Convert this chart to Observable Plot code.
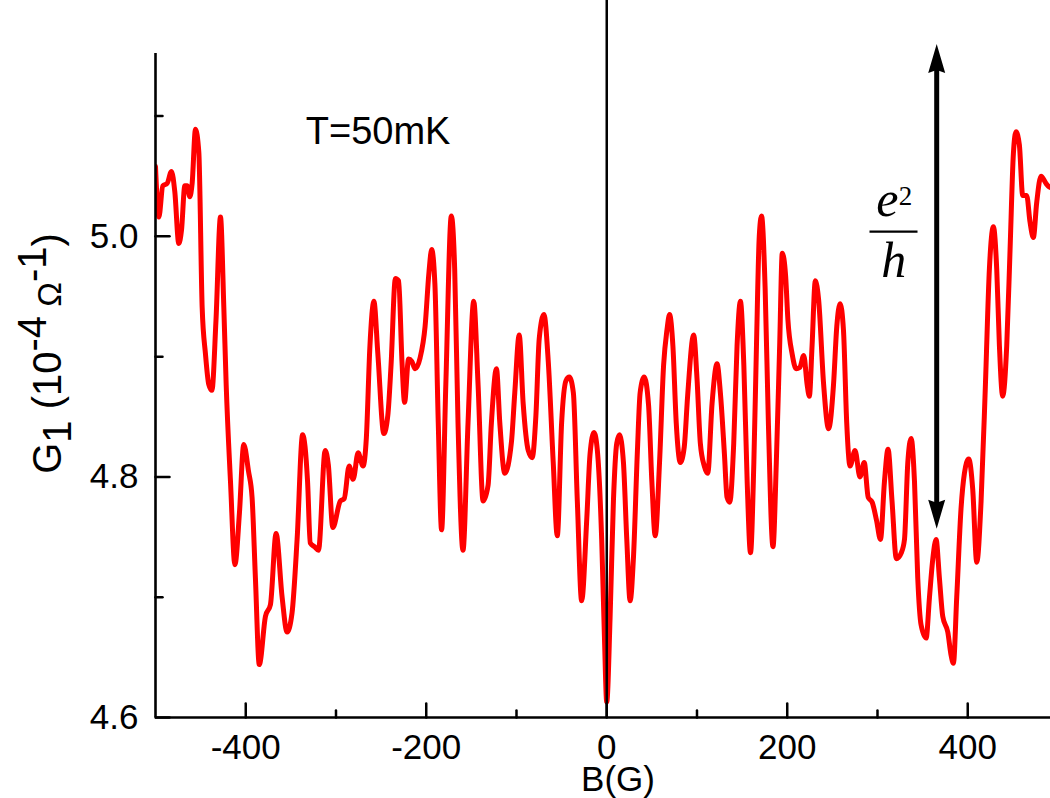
<!DOCTYPE html>
<html><head><meta charset="utf-8">
<script src="https://cdn.jsdelivr.net/npm/d3@7"></script>
<script src="https://cdn.jsdelivr.net/npm/@observablehq/plot@0.6"></script>
<style>
html,body{margin:0;padding:0;background:#fff;overflow:hidden;}
#chart svg{display:block;}
</style></head><body><div id="chart"></div>
<script>
// Magnetoconductance trace: [B (G), G1 (1e-4 / ohm)]
const samples = [
[-500,5.058],[-496.3,5.016],[-491.9,5.042],[-487.1,5.044],[-482.3,5.054],[-478.6,5.037],[-474.2,4.994],[-471.2,5.005],
[-467.5,5.042],[-464.9,5.042],[-462,5.033],[-459.4,5.044],[-455.7,5.089],[-452,5.070],[-448.3,4.941],[-444.6,4.902],
[-441,4.877],[-437.5,4.872],[-433,4.930],[-428,5.016],[-424.3,4.941],[-421.7,4.877],[-416.9,4.796],[-412,4.727],
[-407,4.770],[-402.2,4.827],[-397,4.805],[-393,4.783],[-389.3,4.716],[-385,4.644],[-378.2,4.684],[-372.6,4.694],
[-366.4,4.753],[-359.7,4.700],[-354.2,4.671],[-348.7,4.687],[-343.1,4.748],[-337,4.835],[-331.5,4.796],[-328.5,4.745],
[-323.8,4.742],[-319.4,4.739],[-312,4.822],[-308.5,4.810],[-303.5,4.758],[-295.2,4.780],[-290.9,4.782],[-285.4,4.809],
[-281,4.798],[-275.5,4.820],[-270,4.809],[-266.4,4.832],[-262.4,4.909],[-258,4.946],[-253.6,4.902],[-247,4.836],
[-242.6,4.851],[-239,4.893],[-234.2,4.965],[-230.6,4.963],[-226.9,4.896],[-224,4.862],[-219.6,4.898],[-216,4.896],
[-212.3,4.890],[-206.8,4.899],[-201.3,4.925],[-197,4.970],[-194,4.989],[-190.4,4.960],[-186.7,4.845],[-183,4.756],
[-178.3,4.877],[-172.2,5.017],[-168.5,4.973],[-164.8,4.845],[-159.3,4.739],[-153.7,4.845],[-147.4,4.946],[-142.6,4.877],
[-137,4.780],[-131.5,4.793],[-127.8,4.845],[-122.2,4.890],[-118.5,4.845],[-113,4.803],[-105.6,4.829],[-101.9,4.870],
[-97,4.918],[-92.6,4.861],[-87,4.822],[-82.6,4.816],[-78.5,4.851],[-74.8,4.915],[-69.6,4.935],[-64.8,4.896],
[-59.3,4.812],[-54.8,4.751],[-50,4.845],[-45.2,4.880],[-41.5,4.883],[-37,4.870],[-32.6,4.780],[-27.8,4.697],
[-22.2,4.764],[-18.5,4.819],[-14.1,4.837],[-10.4,4.822],[-5.6,4.748],[-2.6,4.668],[0,4.613],
[3.7,4.683],[7.4,4.780],[11.1,4.828],[14.1,4.835],[18.5,4.812],[22.2,4.748],[25.9,4.697],[29.6,4.733],
[34,4.822],[37,4.870],[41.5,4.883],[46.3,4.860],[50,4.796],[53.7,4.751],[58.5,4.812],[63,4.893],
[66.7,4.922],[69.6,4.935],[73.3,4.909],[77,4.845],[81.5,4.812],[85.9,4.825],[89.6,4.867],[96.3,4.918],
[100,4.882],[103.7,4.828],[108.1,4.809],[111.9,4.803],[116.7,4.861],[122.2,4.894],[125.9,4.870],[130.4,4.819],
[133.3,4.783],[136.3,4.779],[140.7,4.828],[144.4,4.909],[148.1,4.946],[151.9,4.893],[155.6,4.796],[159.3,4.737],
[163,4.812],[165.9,4.909],[169,5.000],[171.5,5.017],[175.5,4.957],[179.1,4.845],[184.2,4.742],[187.9,4.812],
[191.6,4.909],[194.5,4.986],[198.2,4.967],[200.7,4.931],[205.5,4.902],[209.9,4.890],[213.9,4.891],[218.3,4.901],
[222,4.877],[224.5,4.867],[227.5,4.909],[231.1,4.963],[234.8,4.947],[240.3,4.877],[245.8,4.840],[251.3,4.877],
[254.9,4.925],[258.6,4.944],[262.3,4.922],[265.9,4.845],[269.6,4.809],[275.1,4.822],[280.6,4.800],[285.3,4.812],
[289.7,4.783],[294.1,4.779],[298.9,4.764],[303.3,4.748],[307.7,4.796],[311.7,4.823],[316.1,4.780],[320.9,4.732],
[326.4,4.737],[329.9,4.748],[333.6,4.812],[337.3,4.832],[341,4.796],[344.6,4.716],[348.3,4.677],[353.9,4.666],
[357.6,4.700],[361.3,4.732],[364.9,4.748],[368.6,4.716],[372.3,4.684],[377.9,4.671],[381.5,4.652],[384.1,4.645],
[387.8,4.700],[392.6,4.774],[396.3,4.803],[401.1,4.815],[405.5,4.790],[410,4.729],[414.8,4.780],[419.6,4.877],
[424,4.973],[428.4,5.008],[432.1,4.973],[435.1,4.909],[438.7,4.867],[443.2,4.909],[446.9,4.989],[450.6,5.069],
[453.5,5.087],[457.2,5.076],[460.9,5.034],[465.3,5.034],[469,5.012],[472.7,4.999],[476.4,5.028],[481.2,5.050],
[486.7,5.044],[490.4,5.041],[494,5.040]
];

const xDomain = [-500, 491.7];
const yDomain = [4.6, 5.152];
const xMajorTicks = [-400, -200, 0, 200, 400];
const xMinorTicks = [-300, -100, 100, 300];
const xTickLabels = ["-400", "-200", "0", "200", "400"];
const yMajorTicks = [4.6, 4.8, 5.0];
const yMinorTicks = [4.7, 4.9, 5.1];
const yTickLabels = ["4.6", "4.8", "5.0"];
const xTitle = "B(G)";
const yTitleParts = [["G", ""], ["1", "sub"], [" (10", ""], ["-4", "sup"], [" \u03A9", "omega"], ["-1", "sup"], [")", ""]];
const yTitle = yTitleParts.map(p => p[0]).join("");
const tempLabel = ["T=50mK"];
const tempPos = {B: -333.5, G: 5.077};
const arrowB = 365.6;
const arrowEnds = {low: 4.757, high: 5.160};
const fracNumer = {text: "e", sup: "2", B: 311, G: 5.017, supB: 331, supG: 5.026};
const fracDenom = {text: "h", B: 318, G: 4.966};
const fracBar = {B1: 291.7, B2: 344.9, G: 5.004};

const data = samples.map(([b, g]) => ({B: b, G: g}));

const lineShape = {draw(ctx, l) { ctx.moveTo(0, 0); ctx.lineTo(0, -l); }};
const headShape = {draw(ctx) { ctx.moveTo(0, 0); ctx.lineTo(-8.5, 29); ctx.lineTo(0, 26); ctx.lineTo(8.5, 29); ctx.closePath(); }};

const sans = "'Liberation Sans', Arial, Helvetica, sans-serif";
const serif = "'Liberation Serif', 'Times New Roman', serif";

const plot = Plot.plot({
  width: 1050, height: 798,
  marginLeft: 155, marginRight: 0, marginTop: 53, marginBottom: 81,
  x: {domain: xDomain, axis: null},
  y: {domain: yDomain, axis: null},
  style: {fontFamily: sans, fontSize: "35px", background: "#fff", color: "#000"},
  marks: [
    Plot.line(data, {x: "B", y: "G", stroke: "#ff0000", strokeWidth: 5, curve: "monotone-x", clip: true, strokeLinejoin: "round"}),
    // zero-field line
    Plot.ruleX([0], {y1: 5.25, y2: 4.6, stroke: "#000", strokeWidth: 2.5}),
    // axes frame lines
    Plot.ruleX([xDomain[0]], {y1: yDomain[1], y2: yDomain[0], stroke: "#000", strokeWidth: 2.6}),
    Plot.ruleY([yDomain[0]], {x1: xDomain[0], x2: 520, stroke: "#000", strokeWidth: 2.6}),
    // inward ticks
    Plot.vector(xMajorTicks, {x: d => d, y: yDomain[0], length: 14, rotate: 0, anchor: "start", shape: lineShape, stroke: "#000", strokeWidth: 2.5}),
    Plot.vector(xMinorTicks, {x: d => d, y: yDomain[0], length: 7, rotate: 0, anchor: "start", shape: lineShape, stroke: "#000", strokeWidth: 2.5}),
    Plot.vector(yMajorTicks, {y: d => d, x: xDomain[0], length: 14, rotate: 90, anchor: "start", shape: lineShape, stroke: "#000", strokeWidth: 2.5}),
    Plot.vector(yMinorTicks, {y: d => d, x: xDomain[0], length: 7, rotate: 90, anchor: "start", shape: lineShape, stroke: "#000", strokeWidth: 2.5}),
    // tick labels
    Plot.text(xMajorTicks, {x: d => d, text: (d, i) => xTickLabels[i], frameAnchor: "bottom", lineAnchor: "top", dy: 17, fontSize: 35, fill: "#000"}),
    Plot.text(yMajorTicks, {y: d => d, text: (d, i) => yTickLabels[i], frameAnchor: "left", textAnchor: "end", dx: -17, fontSize: 35, fill: "#000"}),
    // axis titles
    Plot.text([xTitle], {frameAnchor: "bottom", lineAnchor: "bottom", dy: 73, dx: 15, fontSize: 35, fill: "#000"}),
    Plot.text([yTitle], {frameAnchor: "left", rotate: -90, textAnchor: "middle", lineAnchor: "middle", dx: -107, dy: -32, fontSize: 40, fill: "#000"}),
    // temperature label
    Plot.text(tempLabel, {x: tempPos.B, y: tempPos.G, textAnchor: "start", lineAnchor: "bottom", fontSize: 38, fill: "#000"}),
    // e^2/h annotation
    Plot.text([fracNumer.text], {x: fracNumer.B, y: fracNumer.G, lineAnchor: "bottom", fontFamily: serif, fontStyle: "italic", fontSize: 50, fill: "#000"}),
    Plot.text([fracNumer.sup], {x: fracNumer.supB, y: fracNumer.supG, lineAnchor: "bottom", fontFamily: serif, fontSize: 27, fill: "#000"}),
    Plot.ruleY([fracBar.G], {x1: fracBar.B1, x2: fracBar.B2, stroke: "#000", strokeWidth: 2.2}),
    Plot.text([fracDenom.text], {x: fracDenom.B, y: fracDenom.G, lineAnchor: "bottom", fontFamily: serif, fontStyle: "italic", fontSize: 50, fill: "#000"}),
    // double arrow (shaft between the heads)
    Plot.ruleX([arrowB], {y1: arrowEnds.high, y2: arrowEnds.low, insetTop: 22, insetBottom: 22, stroke: "#000", strokeWidth: 5}),
    Plot.dot([arrowEnds.high], {x: arrowB, y: d => d, symbol: headShape, fill: "#000", stroke: "none", rotate: 0}),
    Plot.dot([arrowEnds.low], {x: arrowB, y: d => d, symbol: headShape, fill: "#000", stroke: "none", rotate: 180})
  ]
});

// rebuild the y-axis title with sub/superscripts
d3.select(plot).selectAll("text").filter(function() { return this.textContent === yTitle; }).each(function() {
  const t = d3.select(this);
  t.text("");
  let shift = 0;
  for (const [str, kind] of yTitleParts) {
    const target = kind === "sub" ? 10 : kind === "sup" ? -15 : 0;
    const ts = t.append("tspan").text(str);
    if (target !== shift) ts.attr("dy", target - shift);
    if (kind === "omega") ts.attr("font-size", 33);
    shift = target;
  }
});

document.getElementById("chart").append(plot);
</script>
</body></html>
